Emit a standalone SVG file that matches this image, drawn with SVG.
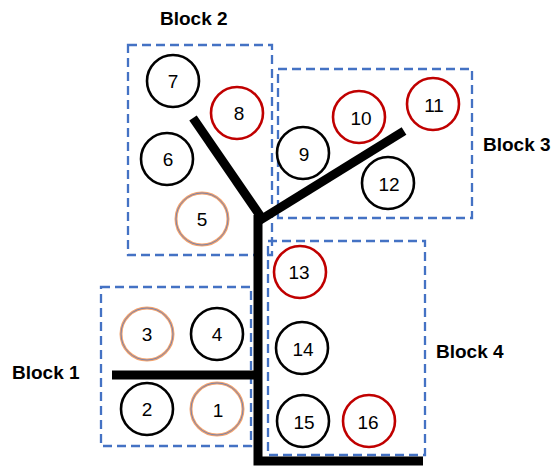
<svg xmlns="http://www.w3.org/2000/svg" width="555" height="466" viewBox="0 0 555 466">
  <style>
    .block { fill: none; stroke: #4472C4; stroke-width: 2.3; stroke-dasharray: 9 5; }
    .branch { fill: none; stroke: #000; stroke-width: 9; stroke-linecap: butt; stroke-linejoin: miter; }
    .node { fill: #fff; stroke-width: 2.6; }
    .black { stroke: #000; }
    .red { stroke: #C00000; }
    .orange { stroke: #F4A46E; stroke-width: 3; }
    .inner { fill: none; stroke: #4472C4; stroke-width: 0.7; }
    .num { font-family: "Liberation Sans", Arial, sans-serif; font-size: 19px; fill: #000; text-anchor: middle; }
    .label { font-family: "Liberation Sans", Arial, sans-serif; font-size: 19px; font-weight: bold; fill: #000; }
  </style>

  <!-- dashed block outlines -->
  <g id="blocks">
    <rect class="block" x="101" y="287" width="150" height="159"/>
    <rect class="block" x="128" y="45" width="144" height="210"/>
    <rect class="block" x="278" y="69" width="194" height="149"/>
    <rect class="block" x="268" y="241" width="157" height="214"/>
  </g>

  <!-- tree trunk and branches -->
  <g id="connectors">
    <polyline class="branch" points="258,215 258,461 423,461"/>
    <line class="branch" x1="112" y1="375" x2="258" y2="375"/>
    <line class="branch" x1="193" y1="118" x2="261" y2="217"/>
    <line class="branch" x1="404" y1="131" x2="257" y2="222"/>
  </g>

  <!-- block labels -->
  <text class="label" x="160" y="25">Block 2</text>
  <text class="label" x="483" y="151">Block 3</text>
  <text class="label" x="436" y="358">Block 4</text>
  <text class="label" x="12" y="379">Block 1</text>

  <!-- Block 1 -->
  <g id="n3"><circle class="node orange" cx="147" cy="334" r="26"/><circle class="inner" cx="147" cy="334" r="26"/><text class="num" x="147" y="341">3</text></g>
  <g id="n4"><circle class="node black" cx="217" cy="334" r="26"/><text class="num" x="217" y="341">4</text></g>
  <g id="n2"><circle class="node black" cx="147" cy="409" r="26"/><text class="num" x="147" y="416">2</text></g>
  <g id="n1"><circle class="node orange" cx="217" cy="409" r="26"/><circle class="inner" cx="217" cy="409" r="26"/><text class="num" x="218" y="417">1</text></g>

  <!-- Block 2 -->
  <g id="n7"><circle class="node black" cx="173" cy="81" r="26"/><text class="num" x="173" y="88">7</text></g>
  <g id="n8"><circle class="node red" cx="237" cy="113" r="26"/><text class="num" x="239" y="120">8</text></g>
  <g id="n6"><circle class="node black" cx="167" cy="159" r="26"/><text class="num" x="168" y="166">6</text></g>
  <g id="n5"><circle class="node orange" cx="202" cy="219" r="26"/><circle class="inner" cx="202" cy="219" r="26"/><text class="num" x="202" y="226">5</text></g>

  <!-- Block 3 -->
  <g id="n9"><circle class="node black" cx="303" cy="153" r="26"/><text class="num" x="304" y="161">9</text></g>
  <g id="n10"><circle class="node red" cx="359" cy="117" r="26"/><text class="num" x="361" y="125">10</text></g>
  <g id="n11"><circle class="node red" cx="433" cy="104" r="26"/><text class="num" x="434" y="112">11</text></g>
  <g id="n12"><circle class="node black" cx="388" cy="183" r="26"/><text class="num" x="389" y="191">12</text></g>

  <!-- Block 4 -->
  <g id="n13"><circle class="node red" cx="300" cy="272" r="26"/><text class="num" x="299" y="279">13</text></g>
  <g id="n14"><circle class="node black" cx="302" cy="348" r="26"/><text class="num" x="303" y="356">14</text></g>
  <g id="n15"><circle class="node black" cx="303" cy="421" r="26"/><text class="num" x="304" y="429">15</text></g>
  <g id="n16"><circle class="node red" cx="369" cy="421" r="26"/><text class="num" x="368" y="429">16</text></g>
</svg>
